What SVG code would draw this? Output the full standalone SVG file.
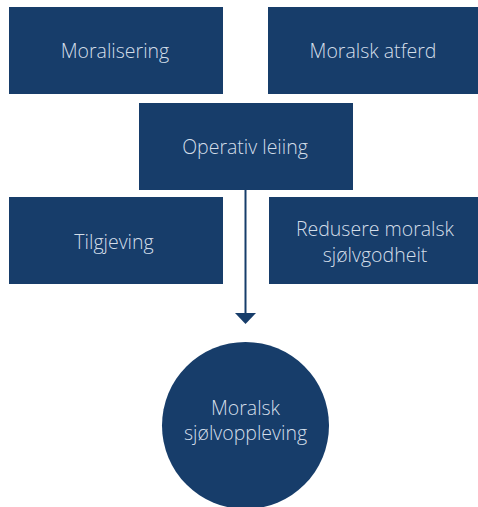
<svg xmlns="http://www.w3.org/2000/svg" width="478" height="507" viewBox="0 0 478 507">
<style>
.n{fill:#173d6a}
.t{font-family:"Open Sans","Liberation Sans",sans-serif;font-weight:300;font-size:19.5px;fill:#d3dde9;text-anchor:middle}
.c{stroke:#173d6a;stroke-width:2;fill:none}
.ah{fill:#173d6a}
</style>
<rect width="478" height="507" fill="#ffffff"/>
<g id="connectors">
<line class="c" x1="245.5" y1="190" x2="245.5" y2="314"/>
<path class="ah" d="M235,313 L256,313 L245.5,324 Z"/>
</g>
<g id="moralisering"><rect class="n" x="9" y="7" width="214" height="87"/><text class="t" x="115" y="58">Moralisering</text></g>
<g id="moralsk-atferd"><rect class="n" x="268" y="7" width="210" height="87"/><text class="t" x="373" y="58">Moralsk atferd</text></g>
<g id="operativ-leiing"><rect class="n" x="139" y="103" width="214" height="87"/><text class="t" x="245" y="154">Operativ leiing</text></g>
<g id="tilgjeving"><rect class="n" x="9" y="197" width="214" height="87"/><text class="t" x="114" y="249">Tilgjeving</text></g>
<g id="redusere"><rect class="n" x="269" y="197" width="209" height="87"/><text class="t" x="375" y="236">Redusere moralsk</text><text class="t" x="375" y="262">sjølvgodheit</text></g>
<g id="moralsk-sjolvoppleving"><circle class="n" cx="245.5" cy="425.5" r="83.5"/><text class="t" x="245.5" y="415">Moralsk</text><text class="t" x="245.5" y="440">sjølvoppleving</text></g>
</svg>
